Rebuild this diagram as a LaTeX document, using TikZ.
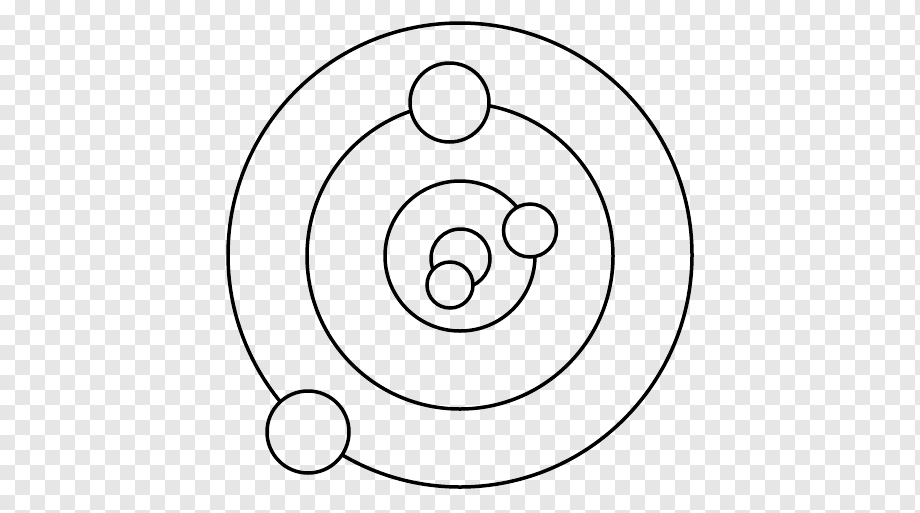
\documentclass[tikz,border=0pt]{standalone}
\definecolor{checkgray}{HTML}{E6E6E6}
\newcommand\checkerbg{%
  \fill[white] (0,0) rectangle (920,512);
  \foreach \i in {0,...,61}{\foreach \j in {0,...,34}{%
    \pgfmathtruncatemacro\cbpar{mod(\i+\j,2)}%
    \ifnum\cbpar=1 \fill[checkgray] (\i*15,\j*15) rectangle ++(15,15);\fi}}}
\tikzset{
  orbit/.style={circle, draw=black, line width=3.5pt, inner sep=0pt, outer sep=0pt},
}
\newcommand\body[4]{% name, x, y, radius
  \begin{scope}
    \clip (#2,#3) circle (#4);
    \checkerbg
  \end{scope}
  \node[orbit, minimum size=2*#4 pt] (#1) at (#2,#3) {};}
\begin{document}
\begin{tikzpicture}[x=1pt,y=-1pt]
\useasboundingbox (0,0) rectangle (920,512);
\checkerbg
\node[orbit, minimum size=464pt] (outer) at (460,255) {};
\node[orbit, minimum size=306pt] (middle) at (460,256) {};
\node[orbit, minimum size=150pt] (inner) at (460,256) {};
\node[orbit, minimum size=59pt] (nucA) at (460.5,258.5) {};
\body{nucB}{450}{285}{23}
\body{moonS}{530}{230.5}{26.5}
\body{moonT}{449.5}{102.5}{39.5}
\body{moonB}{308}{432}{41}
\end{tikzpicture}
\end{document}
